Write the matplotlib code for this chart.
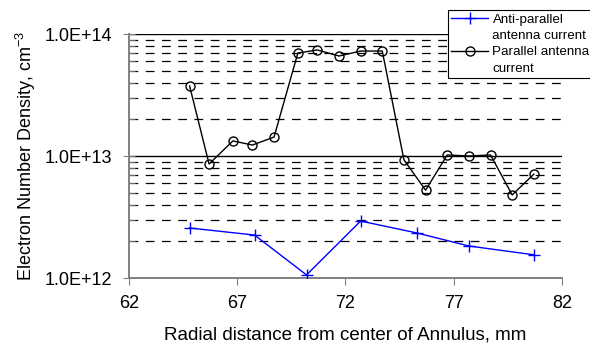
import math
import matplotlib
matplotlib.use("Agg")
import matplotlib.pyplot as plt
from matplotlib.lines import Line2D
from matplotlib.ticker import LogLocator, FuncFormatter, NullFormatter

plt.rcParams['font.family'] = ['Liberation Sans', 'DejaVu Sans']
plt.rcParams['mathtext.fontset'] = 'custom'
plt.rcParams['mathtext.rm'] = 'Liberation Sans'
plt.rcParams['mathtext.default'] = 'regular'

# anti-parallel antenna current
anti_x = [64.8, 67.8, 70.2, 72.7, 75.3, 77.7, 80.7]
anti_y = [2.57e12, 2.25e12, 1.06e12, 2.93e12, 2.34e12, 1.83e12, 1.55e12]

# parallel antenna current
par_x = [64.8, 65.7, 66.8, 67.7, 68.7, 69.8, 70.7, 71.7, 72.7, 73.7,
         74.7, 75.7, 76.7, 77.7, 78.7, 79.7, 80.7]
par_y = [3.75e13, 8.6e12, 1.33e13, 1.23e13, 1.43e13, 6.98e13, 7.4e13, 6.6e13,
         7.25e13, 7.25e13, 9.3e12, 5.25e12, 1.02e13, 1.0e13, 1.02e13, 4.8e12, 7.1e12]

xticks = [62, 67, 72, 77, 82]

fig = plt.figure(figsize=(5.9, 3.46), dpi=100)
ax = fig.add_axes([0.2186, 0.1965, 0.7339, 0.7052])

anti_line, = ax.plot(anti_x, anti_y, color='#0000FF', lw=1, marker='+', ms=9, mew=1, zorder=3)
par_line, = ax.plot(par_x, par_y, color='black', lw=1, marker='o', ms=6.5, mfc='none',
                    mew=1, zorder=3)

ax.set_yscale('log')
ax.set_ylim(1e12, 1e14)
ax.set_xlim(62, 82)
ax.set_xticks(xticks)
ax.yaxis.set_major_locator(LogLocator(base=10, numticks=5))
ax.yaxis.set_minor_locator(LogLocator(base=10, subs=range(2, 10), numticks=20))
ax.yaxis.set_major_formatter(FuncFormatter(lambda v, p: '1.0E+%02d' % round(math.log10(v))))
ax.yaxis.set_minor_formatter(NullFormatter())

ax.yaxis.grid(True, which='major', color='black', lw=1, ls='-')
ax.yaxis.grid(True, which='minor', color='black', lw=0.9, ls=(0, (7, 6)))

gray = '#808080'
for s in ['top', 'right']:
    ax.spines[s].set_visible(False)
for s in ['left', 'bottom']:
    ax.spines[s].set_color(gray)
    ax.spines[s].set_linewidth(1.4)

ax.tick_params(axis='x', direction='out', length=5, color=gray, labelsize=13, pad=7)
ax.tick_params(axis='y', which='major', direction='inout', length=8, color=gray, labelsize=13, pad=8)
ax.tick_params(axis='y', which='minor', direction='in', length=4, color=gray)

ax.set_xlabel('Radial distance from center of Annulus, mm', fontsize=13.5, labelpad=11)
ax.set_ylabel('Electron Number Density, cm$^{-3}$', fontsize=13, labelpad=5)

# each wrapped label line is its own legend row, handle only on the first line
blank = Line2D([], [], color='none')
handles = [anti_line, blank, par_line, blank]
labels = ['Anti-parallel', 'antenna current', 'Parallel antenna', 'current']
leg = fig.legend(handles, labels, loc='upper right', bbox_to_anchor=(1.005, 0.971),
                 fontsize=9.6, frameon=True, fancybox=False, edgecolor='black',
                 framealpha=1, handlelength=2.8, handletextpad=0.3, borderpad=0.25,
                 labelspacing=0.3, borderaxespad=0.0)
leg.get_frame().set_linewidth(0.8)

fig.savefig('out.png', dpi=100)
